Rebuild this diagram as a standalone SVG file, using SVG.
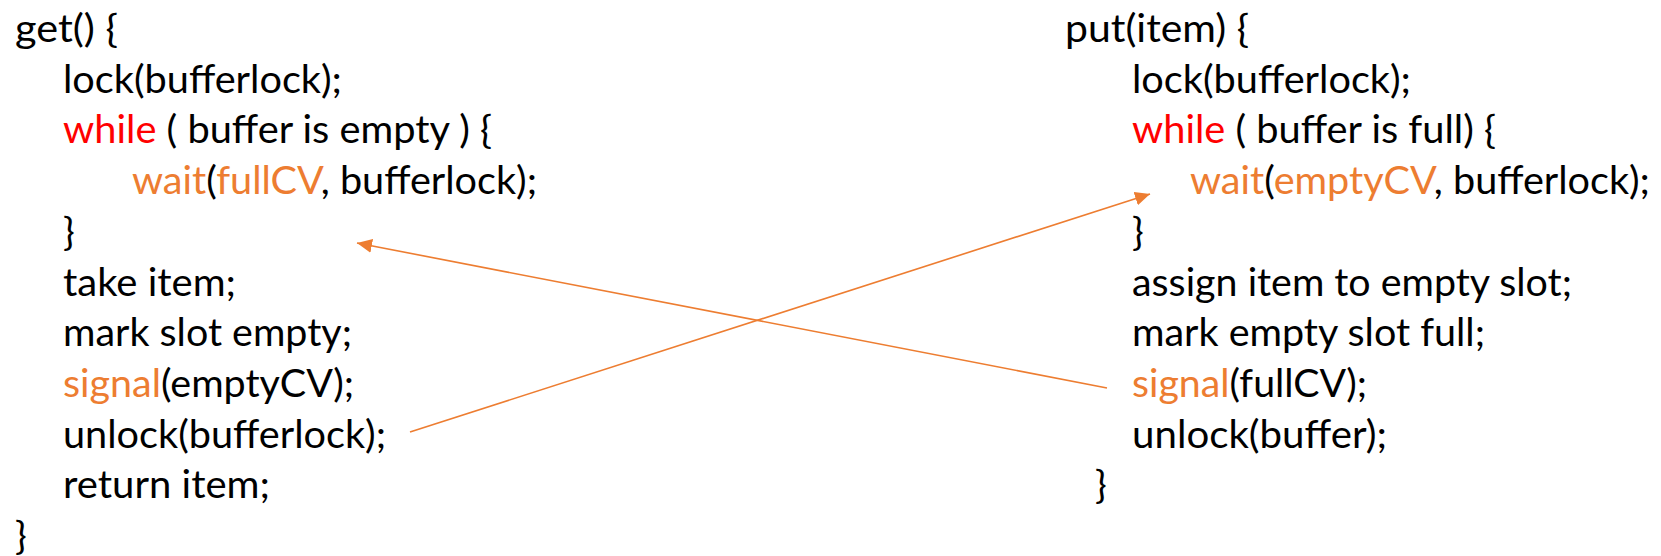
<svg xmlns="http://www.w3.org/2000/svg" width="1661" height="556" viewBox="0 0 1661 556">
  <style>
    text { font-family: Lato, "Open Sans", "Liberation Sans", sans-serif; font-size: 39px; fill: #000000; }
    .kw { fill: #FF0000; }
    .or { fill: #ED7D31; }
    .conn { stroke: #ED7D31; stroke-width: 1.6; fill: none; }
  </style>
  <defs>
    <marker id="arrow" viewBox="0 0 15 14" refX="15" refY="7" markerWidth="15" markerHeight="14" markerUnits="userSpaceOnUse" orient="auto">
      <path d="M0,0 L15,7 L0,14 z" fill="#ED7D31"/>
    </marker>
  </defs>
  <rect width="1661" height="556" fill="#FFFFFF"/>

  <g id="get-block">
    <text x="15" y="42" textLength="103" lengthAdjust="spacingAndGlyphs">get() {</text>
    <text x="63" y="92.7" textLength="279" lengthAdjust="spacingAndGlyphs">lock(bufferlock);</text>
    <text x="63" y="143.4" textLength="429" lengthAdjust="spacingAndGlyphs"><tspan class="kw">while</tspan> ( buffer is empty ) {</text>
    <text x="132" y="194.1" textLength="405" lengthAdjust="spacingAndGlyphs"><tspan class="or">wait</tspan>(<tspan class="or">fullCV</tspan>, bufferlock);</text>
    <text x="63" y="244.8">}</text>
    <text x="63" y="295.5" textLength="173" lengthAdjust="spacingAndGlyphs">take item;</text>
    <text x="63" y="346.2" textLength="289" lengthAdjust="spacingAndGlyphs">mark slot empty;</text>
    <text x="63" y="396.9" textLength="291" lengthAdjust="spacingAndGlyphs"><tspan class="or">signal</tspan>(emptyCV);</text>
    <text x="63" y="447.6" textLength="323" lengthAdjust="spacingAndGlyphs">unlock(bufferlock);</text>
    <text x="63" y="498.3" textLength="207" lengthAdjust="spacingAndGlyphs">return item;</text>
    <text x="15" y="549">}</text>
  </g>

  <g id="put-block">
    <text x="1065" y="42" textLength="184" lengthAdjust="spacingAndGlyphs">put(item) {</text>
    <text x="1132" y="92.7" textLength="279" lengthAdjust="spacingAndGlyphs">lock(bufferlock);</text>
    <text x="1132" y="143.4" textLength="364" lengthAdjust="spacingAndGlyphs"><tspan class="kw">while</tspan> ( buffer is full) {</text>
    <text x="1190" y="194.1" textLength="460" lengthAdjust="spacingAndGlyphs"><tspan class="or">wait</tspan>(<tspan class="or">emptyCV</tspan>, bufferlock);</text>
    <text x="1132" y="244.8">}</text>
    <text x="1132" y="295.5" textLength="440" lengthAdjust="spacingAndGlyphs">assign item to empty slot;</text>
    <text x="1132" y="346.2" textLength="353" lengthAdjust="spacingAndGlyphs">mark empty slot full;</text>
    <text x="1132" y="396.9" textLength="235" lengthAdjust="spacingAndGlyphs"><tspan class="or">signal</tspan>(fullCV);</text>
    <text x="1132" y="447.6" textLength="255" lengthAdjust="spacingAndGlyphs">unlock(buffer);</text>
    <text x="1095" y="498.3">}</text>
  </g>

  <g id="connectors">
    <line class="conn" x1="1107" y1="388" x2="357" y2="243" marker-end="url(#arrow)"/>
    <line class="conn" x1="410" y1="432" x2="1150" y2="194" marker-end="url(#arrow)"/>
  </g>
</svg>
